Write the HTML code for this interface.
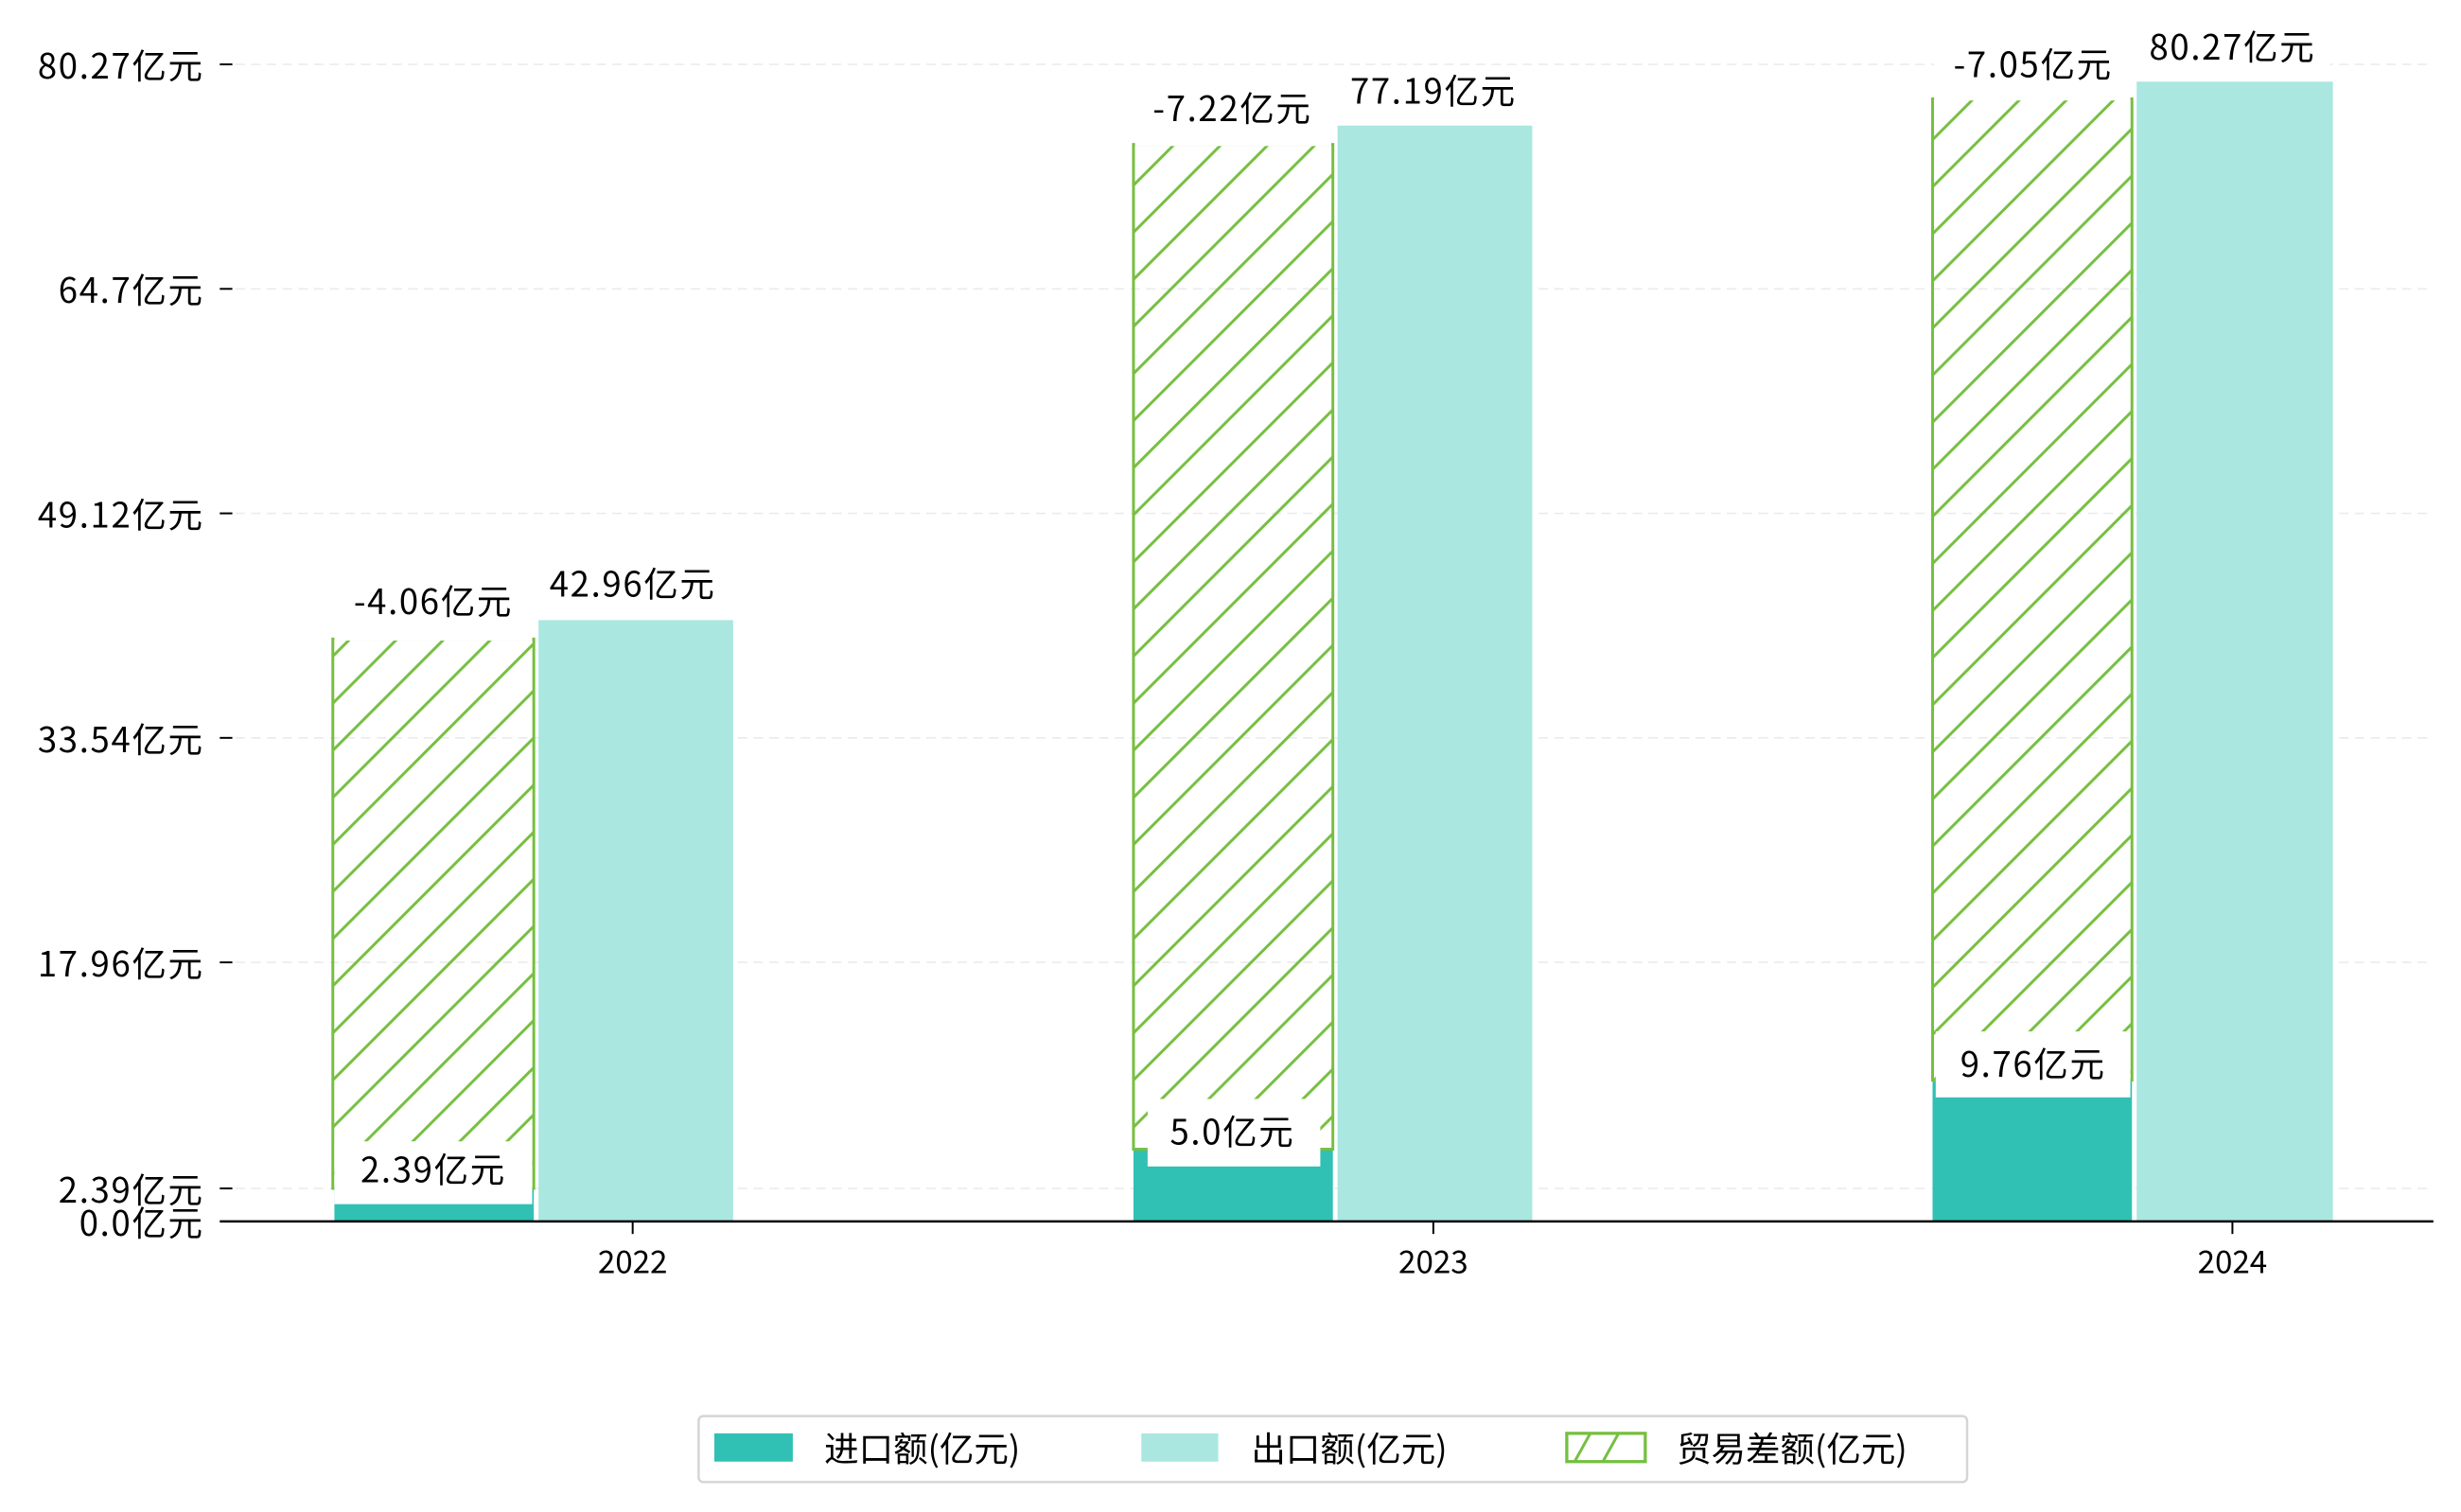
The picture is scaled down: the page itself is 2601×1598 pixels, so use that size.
<!DOCTYPE html>
<html><head><meta charset="utf-8"><style>
html,body{margin:0;padding:0;background:#fff;}
svg{display:block;}
text{font-family:"WenQuanYi Zen Hei","Noto Sans CJK SC",sans-serif;fill:#000;}
</style></head><body>
<svg width="2601" height="1598" viewBox="0 0 1567.6 963.1" preserveAspectRatio="none" xmlns="http://www.w3.org/2000/svg">
<defs>
<pattern id="h" patternUnits="userSpaceOnUse" width="30" height="30">
<path d="M-5,5 L5,-5 M0,30 L30,0 M25,35 L35,25" stroke="#76bf40" stroke-width="1.8"/>
</pattern>
</defs>
<rect width="1567.6" height="963.1" fill="#fff"/>
<g stroke="#ebebeb" stroke-width="1" stroke-dasharray="6,4">
<line x1="140" x2="1550" y1="41" y2="41"/>
<line x1="140" x2="1550" y1="184" y2="184"/>
<line x1="140" x2="1550" y1="327" y2="327"/>
<line x1="140" x2="1550" y1="470" y2="470"/>
<line x1="140" x2="1550" y1="613" y2="613"/>
<line x1="140" x2="1550" y1="757" y2="757"/>
</g>
<rect x="213" y="756" width="127" height="22" fill="#31c0b4"/>
<rect x="343" y="395" width="124" height="383" fill="#aae7e1"/>
<rect x="722" y="732" width="127" height="46" fill="#31c0b4"/>
<rect x="852" y="80" width="124" height="698" fill="#aae7e1"/>
<rect x="1231" y="688" width="127" height="90" fill="#31c0b4"/>
<rect x="1361" y="52" width="125" height="726" fill="#aae7e1"/>
<rect x="212" y="407" width="128" height="350" fill="url(#h)" stroke="#76bf40" stroke-width="1.8"/>
<rect x="722" y="92" width="127" height="640" fill="url(#h)" stroke="#76bf40" stroke-width="1.8"/>
<rect x="1231" y="63" width="127" height="625" fill="url(#h)" stroke="#76bf40" stroke-width="1.8"/>
<g fill="#fff">
<rect x="213" y="366" width="126" height="42"/>
<rect x="340" y="356" width="124" height="38"/>
<rect x="213" y="727" width="126" height="40"/>
<rect x="723" y="52" width="125" height="41"/>
<rect x="850" y="42" width="126" height="37"/>
<rect x="731" y="700" width="110" height="43"/>
<rect x="1232" y="24" width="125" height="40"/>
<rect x="1358" y="14" width="126" height="37"/>
<rect x="1233" y="657" width="124" height="42"/>
</g>
<g font-size="22" text-anchor="middle" letter-spacing="1">
<text x="276" y="391">-4.06亿元</text>
<text x="403" y="380">42.96亿元</text>
<text x="276" y="753">2.39亿元</text>
<text x="785" y="77">-7.22亿元</text>
<text x="913" y="66">77.19亿元</text>
<text x="785" y="729">5.0亿元</text>
<text x="1295" y="49">-7.05亿元</text>
<text x="1422" y="38">80.27亿元</text>
<text x="1295" y="686">9.76亿元</text>
</g>
<line x1="140" x2="1550" y1="778" y2="778" stroke="#000" stroke-width="1.5"/>
<g stroke="#000" stroke-width="1.2">
<line x1="140" x2="148" y1="41" y2="41"/><line x1="140" x2="148" y1="184" y2="184"/>
<line x1="140" x2="148" y1="327" y2="327"/><line x1="140" x2="148" y1="470" y2="470"/>
<line x1="140" x2="148" y1="613" y2="613"/><line x1="140" x2="148" y1="757" y2="757"/>
<line x1="403" x2="403" y1="778" y2="786"/><line x1="913" x2="913" y1="778" y2="786"/><line x1="1422" x2="1422" y1="778" y2="786"/>
</g>
<g font-size="22" text-anchor="end" letter-spacing="1">
<text x="130" y="50">80.27亿元</text>
<text x="130" y="193">64.7亿元</text>
<text x="130" y="336">49.12亿元</text>
<text x="130" y="479">33.54亿元</text>
<text x="130" y="622">17.96亿元</text>
<text x="130" y="766">2.39亿元</text>
<text x="130" y="787">0.0亿元</text>
</g>
<g font-size="20" text-anchor="middle">
<text x="403" y="811">2022</text><text x="913" y="811">2023</text><text x="1422" y="811">2024</text>
</g>
<rect x="445" y="902" width="808" height="42" rx="3" fill="#fff" stroke="#d5d5d5" stroke-width="1.5"/>
<rect x="455" y="913" width="50" height="18" fill="#31c0b4"/>
<text x="525" y="931" font-size="22">进口额(亿元)</text>
<rect x="727" y="913" width="49" height="18" fill="#aae7e1"/>
<text x="797" y="931" font-size="22">出口额(亿元)</text>
<rect x="998" y="913" width="50" height="18" fill="#fff" stroke="#76bf40" stroke-width="2"/>
<path d="M1003,931 L1013,913 M1021,931 L1031,913" stroke="#76bf40" stroke-width="1.8"/>
<text x="1068" y="931" font-size="22">贸易差额(亿元)</text>
</svg>
</body></html>
